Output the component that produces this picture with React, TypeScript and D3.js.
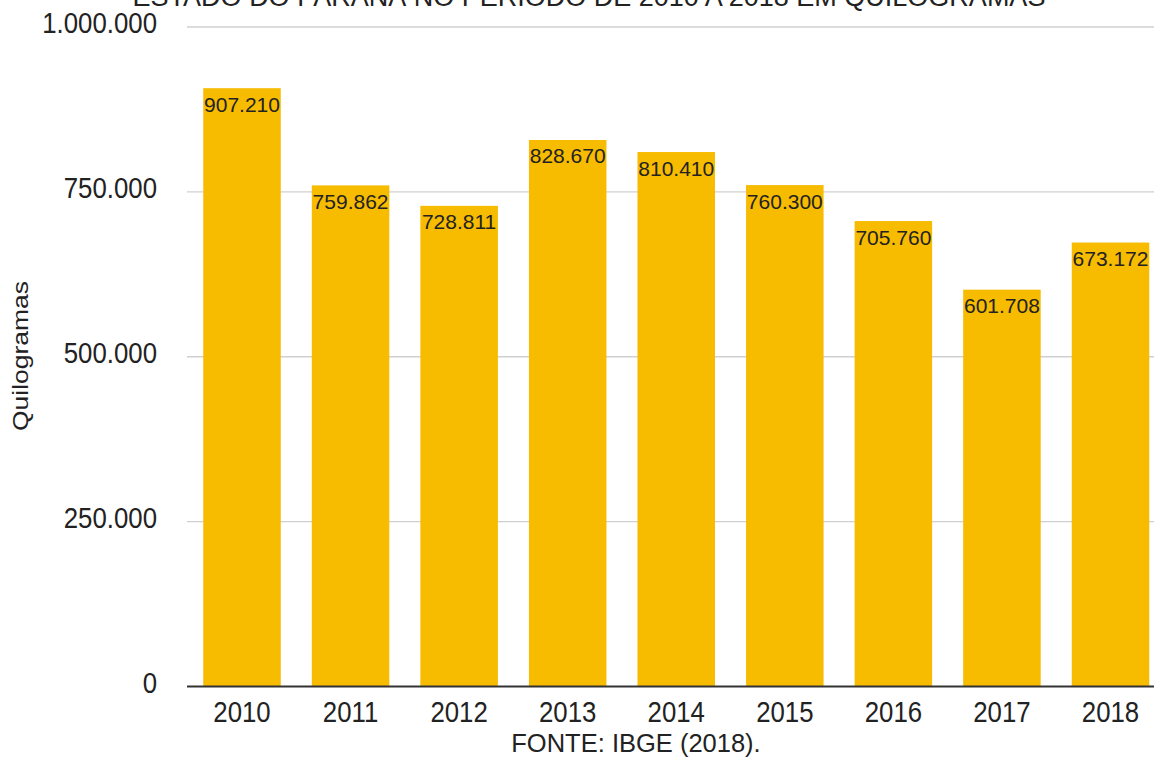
import React from "react";
import * as d3 from "d3";

const years = ["2010", "2011", "2012", "2013", "2014", "2015", "2016", "2017", "2018"];
const values = [907210, 759862, 728811, 828670, 810410, 760300, 705760, 601708, 673172];
const yTicks = [0, 250000, 500000, 750000, 1000000];
const titleText = "ESTADO DO PARANÁ NO PERÍODO DE 2010 A 2018 EM QUILOGRAMAS";
const yAxisTitle = "Quilogramas";
const sourceText = "FONTE: IBGE (2018).";

const W = 1154;
const H = 757;
const FONT = "'Liberation Sans', Arial, sans-serif";
const fmt = (v: number) => d3.format(",")(v).replace(/,/g, ".");

export default function App() {
  const x = d3
    .scaleBand<string>()
    .domain(years)
    .range([187.5, 1165])
    .paddingInner(0.286)
    .paddingOuter(0.145);
  const y = d3.scaleLinear().domain([0, 1000000]).range([686.5, 27]);
  const left = 187;

  return (
    <svg
      width={W}
      height={H}
      style={{ position: "absolute", left: 0, top: 0, background: "#fff" }}
      fontFamily={FONT}
    >
      <rect x={0} y={0} width={W} height={H} fill="#ffffff" />
      <text x={589} y={6} textAnchor="middle" fontSize={27} fill="#222">
        {titleText}
      </text>
      {yTicks.map((t) =>
        t === 0 ? null : (
          <line key={"g" + t} x1={left} x2={W} y1={y(t)} y2={y(t)} stroke="#d0d0d0" strokeWidth={1.3} />
        )
      )}
      {yTicks.map((t) => (
        <text
          key={"t" + t}
          transform={`translate(157,${y(t) + 6}) scale(0.86,1)`}
          textAnchor="end"
          fontSize={30}
          fill="#222"
        >
          {fmt(t)}
        </text>
      ))}
      {years.map((yr, i) => (
        <rect
          key={"b" + yr}
          x={x(yr)!}
          y={y(values[i])}
          width={x.bandwidth()}
          height={y(0) - y(values[i])}
          fill="#F7BB00"
        />
      ))}
      {years.map((yr, i) => (
        <text
          key={"v" + yr}
          x={x(yr)! + x.bandwidth() / 2}
          y={y(values[i]) + 23.5}
          textAnchor="middle"
          fontSize={21}
          fill="#222"
        >
          {fmt(values[i])}
        </text>
      ))}
      <line x1={left} x2={W} y1={y(0)} y2={y(0)} stroke="#333" strokeWidth={2} />
      {years.map((yr) => (
        <text
          key={"x" + yr}
          transform={`translate(${x(yr)! + x.bandwidth() / 2},722) scale(0.86,1)`}
          textAnchor="middle"
          fontSize={30}
          fill="#222"
        >
          {yr}
        </text>
      ))}
      <text
        transform={`translate(28,356) rotate(-90) scale(1,0.84)`}
        textAnchor="middle"
        fontSize={26.5}
        fill="#222"
      >
        {yAxisTitle}
      </text>
      <text x={636} y={752} textAnchor="middle" fontSize={25.5} fill="#222">
        {sourceText}
      </text>
    </svg>
  );
}
